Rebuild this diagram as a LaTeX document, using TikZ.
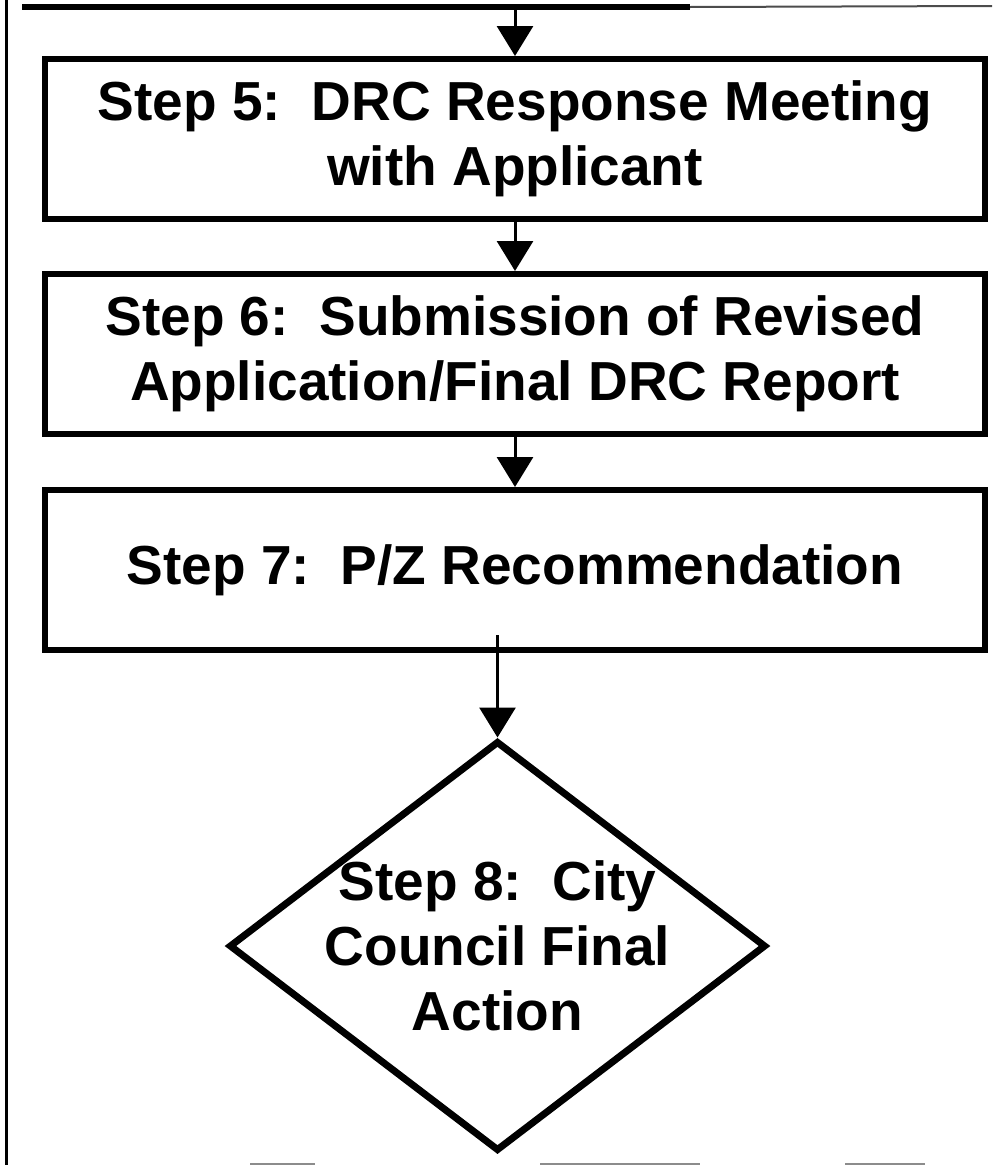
\documentclass[tikz,border=0pt]{standalone}
\usepackage{fontspec}
\newfontfamily\stepfont{Liberation Sans}
\usetikzlibrary{arrows.meta,shapes.geometric}

\begin{document}
\begin{tikzpicture}[x=1pt,y=-1pt,
  steptext/.style={font=\stepfont\bfseries\fontsize{55}{65}\selectfont,align=center,inner sep=0pt},
  stepbox/.style={steptext,draw,line width=6pt,minimum width=940pt,minimum height=160pt},
  decision/.style={diamond,draw,line width=7pt,minimum width=537pt,minimum height=410pt,inner sep=0pt},
  flow/.style={line width=3pt,-{Triangle[width=36pt,length=30pt]}},
  frame/.style={line width=3pt},
  scrap/.style={line width=2pt,black!45}]
  \useasboundingbox (0,0) rectangle (997,1165);

  % page frame lines
  \coordinate (frametop) at (6,0);
  \coordinate (framebot) at (6,1165);
  \draw[frame] (frametop) -- (framebot);
  \coordinate (barL) at (22,7);
  \coordinate (barM) at (690,7);
  \coordinate (barR) at (992,6);
  \draw[line width=6pt] (barL) -- (barM);
  \draw[line width=2pt,black!70] (barM) -- (barR);
  \coordinate (feed) at (515,7);

  % process steps
  \node[stepbox] (s5) at (515,139) {Step 5:\ \ DRC Response Meeting\\with Applicant};
  \node[stepbox] (s6) at (515,354) {Step 6:\ \ Submission of Revised\\Application/Final DRC Report};
  \node[stepbox] (s7) at (515,570) {Step 7:\ \ P/Z Recommendation};

  % decision
  \node[decision] (s8) at (497.5,946) {};
  \node[steptext] (s8text) at (s8.center) {Step 8:\ \ City\\Council Final\\Action};

  % connectors
  \draw[flow] (feed) -- (s5.north);
  \draw[flow] (s5.south) -- (s6.north);
  \draw[flow] (s6.south) -- (s7.north);
  \coordinate (s7out) at ([yshift=18pt]s7.south -| s8.north);
  \draw[flow] (s7out) -- (s8.north);

  % fragments along the bottom edge
  \coordinate (f1a) at (250,1164); \coordinate (f1b) at (315,1164);
  \coordinate (f2a) at (540,1164); \coordinate (f2b) at (700,1164);
  \coordinate (f3a) at (845,1164); \coordinate (f3b) at (925,1164);
  \draw[scrap] (f1a) -- (f1b);
  \draw[scrap] (f2a) -- (f2b);
  \draw[scrap] (f3a) -- (f3b);
\end{tikzpicture}
\end{document}
